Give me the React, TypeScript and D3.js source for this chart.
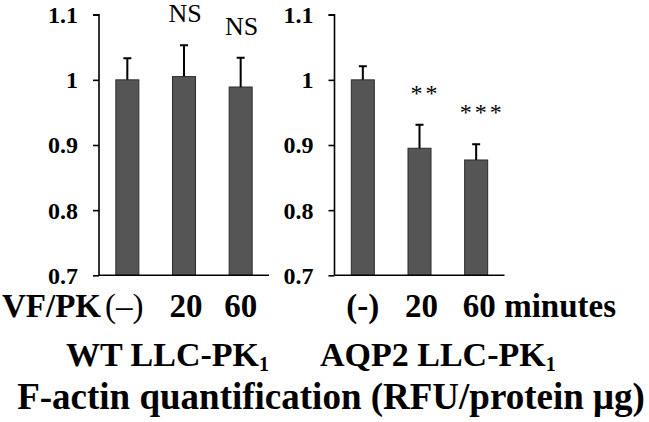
import React, { useEffect, useRef } from "react";
import * as d3 from "d3";

const wtLabels = ["(–)", "20", "60"];
const wtMeans = [1.0, 1.005, 0.989];
const wtErr = [0.033, 0.048, 0.045];
const wtSig = ["", "NS", "NS"];

const aqpLabels = ["(-)", "20", "60"];
const aqpMeans = [1.0, 0.895, 0.877];
const aqpErr = [0.021, 0.036, 0.024];
const aqpSig = ["", "**", "***"];

const yTicks = [0.7, 0.8, 0.9, 1, 1.1];

const serif = "'Liberation Serif', 'Times New Roman', serif";

function drawPanel(svg, left, labels, means, errs, sigs, opts) {
  var plotW = 170,
    top = 14.7,
    bottom = 275.3;

  var x = d3.scaleBand().domain(labels).range([0, plotW]).paddingInner(0.594).paddingOuter(0.297);
  var y = d3.scaleLinear().domain([0.7, 1.1]).range([bottom, top]);

  var g = svg.append("g").attr("transform", "translate(" + left + ",0)");

  // y axis
  var yAxis = g.append("g").call(d3.axisLeft(y).tickValues(yTicks).tickSize(6).tickPadding(15)
    .tickFormat(function (d) { return d3.format("")(+d.toFixed(1)); }));
  yAxis.attr("font-family", serif);
  yAxis.select(".domain").attr("stroke", "#000").attr("stroke-width", 1.6).attr("d", "M-6," + top + "H0V" + bottom);
  yAxis.selectAll(".tick line").attr("stroke", "#000").attr("stroke-width", 1.6);
  yAxis.selectAll(".tick text")
    .attr("font-family", serif).attr("font-weight", "bold").attr("font-size", 24).attr("fill", "#000")
    .attr("dy", "0.33em");

  // bars
  g.selectAll(".bar").data(means).enter().append("rect")
    .attr("x", function (d, i) { return x(labels[i]); })
    .attr("y", function (d) { return y(d); })
    .attr("width", x.bandwidth())
    .attr("height", function (d) { return bottom - y(d); })
    .attr("fill", "#555555").attr("stroke", "#2b2b2b").attr("stroke-width", 1);

  // error bars
  var cx = function (i) { return x(labels[i]) + x.bandwidth() / 2; };
  g.selectAll(".err").data(means).enter().append("path")
    .attr("d", function (d, i) {
      var yt = y(d + errs[i]);
      return "M" + cx(i) + "," + y(d) + "V" + yt + "M" + (cx(i) - 4) + "," + yt + "H" + (cx(i) + 4);
    })
    .attr("stroke", "#000").attr("stroke-width", 2).attr("fill", "none");

  // x baseline
  g.append("line").attr("x1", 0).attr("x2", plotW).attr("y1", bottom).attr("y2", bottom)
    .attr("stroke", "#000").attr("stroke-width", 1.6);

  // significance marks
  g.selectAll(".sig").data(sigs).enter().append("text")
    .attr("x", function (d, i) { return cx(i) + opts.sigDx; })
    .attr("y", function (d, i) { return y(means[i] + errs[i]) - opts.sigGap; })
    .attr("text-anchor", "middle")
    .attr("font-family", serif).attr("font-size", opts.sigSize)
    .attr("letter-spacing", opts.sigSpacing)
    .text(function (d) { return d; });

  // category labels
  g.selectAll(".cat").data(labels).enter().append("text")
    .attr("x", function (d, i) { return cx(i) + opts.catDx[i]; })
    .attr("y", 317)
    .attr("text-anchor", "middle")
    .attr("font-family", serif).attr("font-size", 33)
    .attr("font-weight", function (d, i) { return opts.catBold[i] ? "bold" : "normal"; })
    .text(function (d) { return d; });

  return { x: x, cx: cx };
}

function cellLine(svg, x, txt) {
  var t = svg.append("text").attr("x", x).attr("y", 366)
    .attr("font-family", serif).attr("font-size", 34).attr("font-weight", "bold");
  t.append("tspan").text(txt);
  t.append("tspan").attr("font-size", 20).attr("dy", 5).text("1");
}

export default function App() {
  const ref = useRef(null);

  useEffect(() => {
    var svg = d3.select(ref.current);
    svg.selectAll("*").remove();

    drawPanel(svg, 99, wtLabels, wtMeans, wtErr, wtSig,
      { sigDx: 1, sigGap: 23, sigSize: 26, sigSpacing: 0, catDx: [-3, 2, 0], catBold: [false, true, true] });
    var right = drawPanel(svg, 334.5, aqpLabels, aqpMeans, aqpErr, aqpSig,
      { sigDx: 6, sigGap: 24, sigSize: 24, sigSpacing: 3, catDx: [0, 2, 3], catBold: [true, true, true] });

    svg.append("text").attr("x", 101).attr("y", 317).attr("text-anchor", "end")
      .attr("font-family", serif).attr("font-size", 33).attr("font-weight", "bold").text("VF/PK");
    svg.append("text").attr("x", 334.5 + right.cx(2) + 28).attr("y", 317)
      .attr("font-family", serif).attr("font-size", 33).attr("font-weight", "bold").text("minutes");

    cellLine(svg, 66, "WT LLC-PK");
    cellLine(svg, 320, "AQP2 LLC-PK");

    svg.append("text").attr("x", 331).attr("y", 409).attr("text-anchor", "middle")
      .attr("font-family", serif).attr("font-size", 37).attr("font-weight", "bold")
      .text("F-actin quantification (RFU/protein μg)");
  }, []);

  return (
    <svg ref={ref} width={649} height={422}
      style={{ position: "absolute", left: 0, top: 0, background: "#fff" }} />
  );
}
